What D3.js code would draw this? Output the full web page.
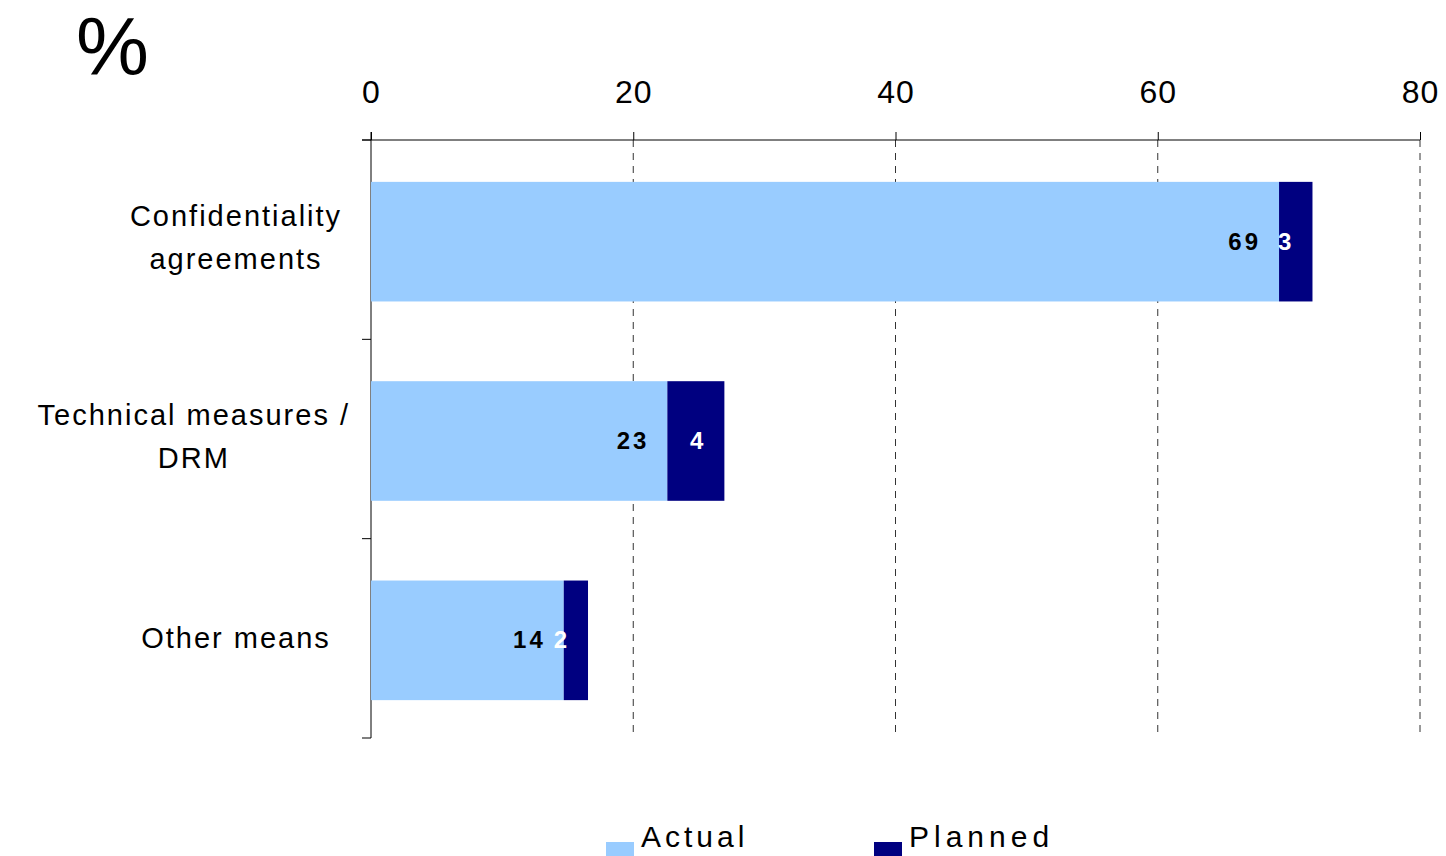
<!DOCTYPE html>
<html>
<head>
<meta charset="utf-8">
<script src="https://cdn.jsdelivr.net/npm/d3@7"></script>
<style>
body { margin: 0; background: #fff; }
svg { display: block; font-family: "Liberation Sans", Arial, sans-serif; }
</style>
</head>
<body>
<div id="chart"></div>
<script>
// values
var categories = [["Confidentiality", "agreements"], ["Technical measures /", "DRM"], ["Other means"]];
var actual = [69.25, 22.6, 14.7];
var planned = [2.55, 4.35, 1.85];
var actualLabels = ["69", "23", "14"];
var plannedLabels = ["3", "4", "2"];
var xTicks = [0, 20, 40, 60, 80];
var seriesNames = ["Actual", "Planned"];
var colors = ["#99ccff", "#000080"];

var W = 1446, H = 856;
var margin = {top: 140, right: 26, bottom: 118, left: 371},
    width = W - margin.left - margin.right,
    height = H - margin.top - margin.bottom;

var root = d3.select("#chart").append("svg")
    .attr("width", W)
    .attr("height", H);

var svg = root.append("g")
    .attr("transform", "translate(" + margin.left + "," + margin.top + ")");

var x = d3.scaleLinear().domain([0, 80]).range([0, width]);
var y = d3.scaleBand().domain(d3.range(categories.length))
    .range([0, height]).paddingInner(0.4).paddingOuter(0.2);

// dashed gridlines
svg.selectAll(".grid")
    .data(xTicks.slice(1))
    .enter().append("line")
    .attr("x1", function(d) { return x(d); })
    .attr("x2", function(d) { return x(d); })
    .attr("y1", 0).attr("y2", height)
    .attr("stroke", "#333")
    .attr("stroke-dasharray", "7,6");

// top axis
var xAxis = svg.append("g")
    .call(d3.axisTop(x).tickValues(xTicks).tickSize(8).tickSizeOuter(0).tickPadding(29));
xAxis.select(".domain").remove();
xAxis.selectAll(".tick line").attr("stroke", "#000");
xAxis.selectAll(".tick text")
    .attr("font-family", "Liberation Sans, Arial, sans-serif")
    .attr("font-size", 32)
    .attr("letter-spacing", 1)
    .attr("fill", "#000");
svg.append("line")
    .attr("x1", -9).attr("x2", width)
    .attr("y1", 0).attr("y2", 0)
    .attr("stroke", "#000");

// left axis with ticks at band boundaries
svg.append("line")
    .attr("x1", 0).attr("x2", 0)
    .attr("y1", -8).attr("y2", height)
    .attr("stroke", "#000");
svg.selectAll(".ytick")
    .data(d3.range(categories.length + 1))
    .enter().append("line")
    .attr("x1", -9).attr("x2", 0)
    .attr("y1", function(i) { return i * y.step(); })
    .attr("y2", function(i) { return i * y.step(); })
    .attr("stroke", "#000");

// bars
var rows = categories.map(function(c, i) {
    return {i: i, a: actual[i], p: planned[i], al: actualLabels[i], pl: plannedLabels[i]};
});

var bar = svg.selectAll(".bar")
    .data(rows)
    .enter().append("g")
    .attr("transform", function(d) { return "translate(0," + (y(d.i) + 2) + ")"; });

bar.append("rect")
    .attr("x", x(0))
    .attr("width", function(d) { return x(d.a) - x(0); })
    .attr("height", y.bandwidth())
    .attr("fill", colors[0]);

bar.append("rect")
    .attr("x", function(d) { return x(d.a); })
    .attr("width", function(d) { return x(d.a + d.p) - x(d.a); })
    .attr("height", y.bandwidth())
    .attr("fill", colors[1]);

bar.append("text")
    .attr("x", function(d) { return x(d.a) - 18; })
    .attr("y", y.bandwidth() / 2 + 8)
    .attr("text-anchor", "end")
    .attr("font-weight", "bold")
    .attr("font-size", 24)
    .attr("letter-spacing", 3)
    .attr("fill", "#000")
    .text(function(d) { return d.al; });

bar.append("text")
    .attr("x", function(d) { return x(d.a + d.p) - 21; })
    .attr("y", y.bandwidth() / 2 + 8)
    .attr("text-anchor", "end")
    .attr("font-weight", "bold")
    .attr("font-size", 24)
    .attr("fill", "#fff")
    .text(function(d) { return d.pl; });

// category labels
categories.forEach(function(lines, i) {
    var cy = margin.top + y(i) + 2 + y.bandwidth() / 2;
    var t = root.append("text")
        .attr("font-size", 29)
        .attr("letter-spacing", 2)
        .attr("text-anchor", "middle")
        .attr("fill", "#000");
    var offs = lines.length === 1 ? [8] : [-16, 27];
    var w = 0;
    lines.forEach(function(l, j) {
        var ts = t.append("tspan").attr("x", 0).attr("y", cy + offs[j]).text(l);
        w = Math.max(w, ts.node().getComputedTextLength());
    });
    var cx = Math.min(236, 350 - w / 2);
    t.selectAll("tspan").attr("x", cx);
});

// percent sign
root.append("text")
    .attr("x", 76).attr("y", 75)
    .attr("font-size", 82)
    .attr("fill", "#000")
    .text("%");

// legend
var legX = [606, 874];
var legend = root.selectAll(".legend")
    .data(seriesNames)
    .enter().append("g")
    .attr("transform", function(d, i) { return "translate(" + legX[i] + ",0)"; });
legend.append("rect")
    .attr("x", 0).attr("y", 842)
    .attr("width", 28).attr("height", 28)
    .attr("fill", function(d, i) { return colors[i]; });
legend.append("text")
    .attr("x", 35).attr("y", 847)
    .attr("font-size", 30)
    .attr("letter-spacing", function(d, i) { return i ? 5 : 4; })
    .attr("fill", "#000")
    .text(function(d) { return d; });
</script>
</body>
</html>
